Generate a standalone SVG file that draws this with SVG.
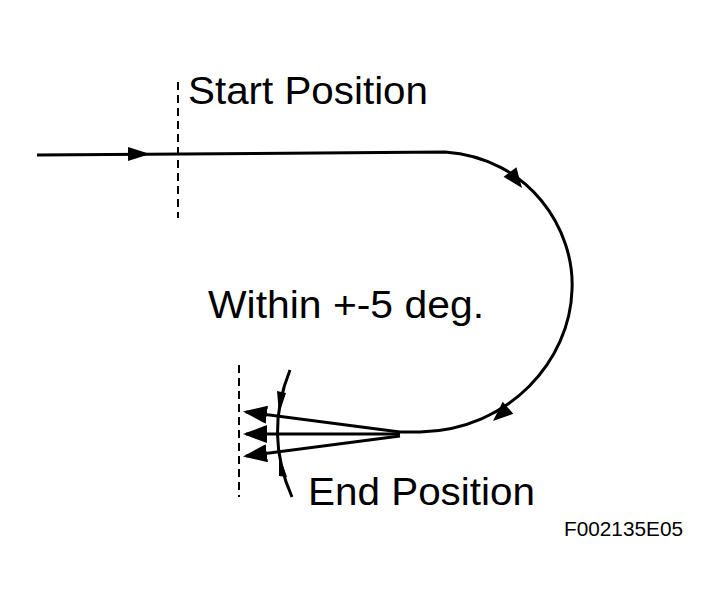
<svg xmlns="http://www.w3.org/2000/svg" width="719" height="613" viewBox="0 0 719 613">
<style>
.l{fill:none;stroke:#000;stroke-width:3}
.d{fill:none;stroke:#000;stroke-width:2;stroke-dasharray:8,5}
.t{font-family:"Liberation Sans",Arial,sans-serif;font-size:38px;fill:#000}
</style>
<defs><marker id="a" markerWidth="8" markerHeight="6" refX="7" refY="3" orient="auto" markerUnits="strokeWidth"><path d="M0,0L8,3L0,6z"/></marker></defs>
<rect width="719" height="613" fill="#fff"/>
<g id="connectors">
<path class="l" d="M37,155 L445,152 C530,158 575,230 572,290 C570,360 510,430 420,432 L400,432"/>
<path d="M128,147 L150,154 L128,161z"/>
<path d="M522,188 L516.4,167.2 L503.6,176.8z"/>
<path d="M493,421 L513.3,413.8 L502.7,401.8z"/>
<line class="l" x1="400" y1="432" x2="246" y2="412" marker-end="url(#a)"/>
<line class="l" x1="400" y1="434" x2="246" y2="434" marker-end="url(#a)"/>
<line class="l" x1="400" y1="436" x2="246" y2="456" marker-end="url(#a)"/>
<path class="l" d="M290,370 Q264,434 292,497"/>
<path d="M277,391 L286,393 L279,414z"/>
<path d="M279,454 L287,477 L279,476z"/>
</g>
<g id="start"><line class="d" x1="178" y1="82" x2="178" y2="218"/><text class="t" x="188" y="104" textLength="240" lengthAdjust="spacingAndGlyphs">Start Position</text></g>
<g id="end"><line class="d" x1="239" y1="365" x2="239" y2="497"/><text class="t" x="308" y="505" textLength="227" lengthAdjust="spacingAndGlyphs">End Position</text></g>
<g id="label"><text class="t" x="208" y="318" textLength="276" lengthAdjust="spacingAndGlyphs">Within +-5 deg.</text></g>
<text x="564" y="536" font-family="Liberation Sans,Arial,sans-serif" font-size="20" textLength="119" lengthAdjust="spacingAndGlyphs">F002135E05</text>
</svg>
